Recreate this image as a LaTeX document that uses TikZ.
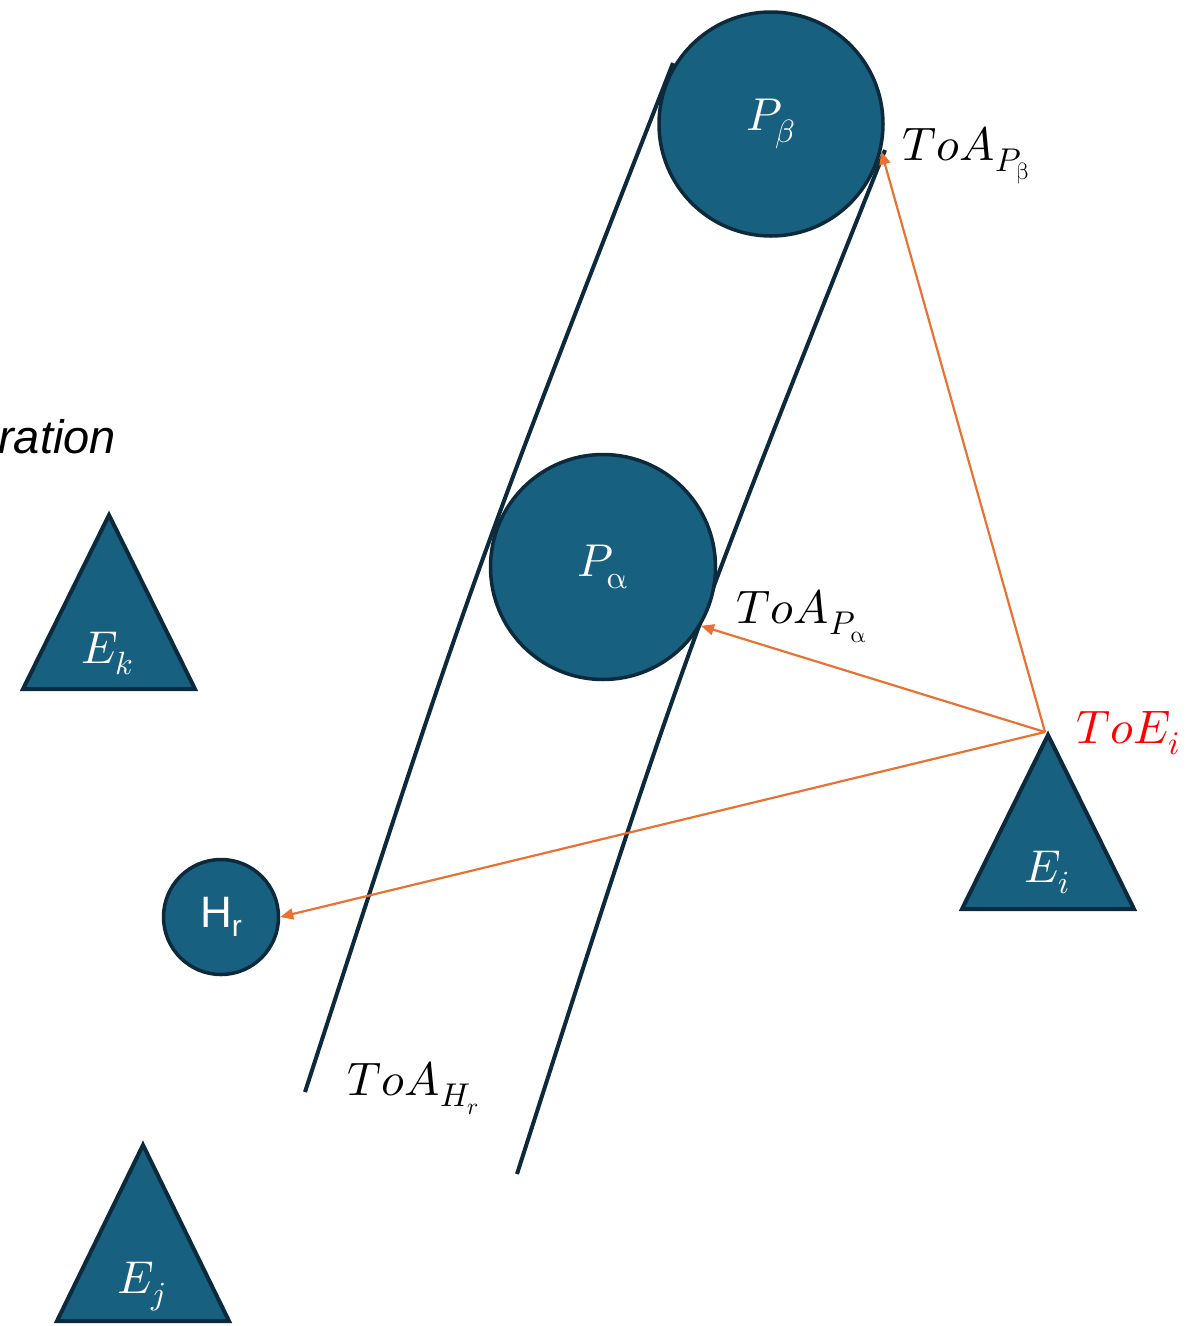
\documentclass[tikz,border=0pt]{standalone}
\usepackage{fontspec}
\usepackage{unicode-math}
\setmathfont{Latin Modern Math}
\newfontfamily\sansfam{Liberation Sans}
\usetikzlibrary{arrows.meta}
\definecolor{fillc}{HTML}{18607F}
\definecolor{edgec}{HTML}{0C2A3B}
\definecolor{orangec}{HTML}{E97132}
\begin{document}
\begin{tikzpicture}[x=1pt,y=-1pt,
  bluecirc/.style={circle,draw=edgec,fill=fillc,line width=3.5pt,inner sep=0pt,text=white,font=\fontsize{46}{50}\selectfont},
  tri/.style={draw=edgec,fill=fillc,line width=4pt,line join=miter},
  darkline/.style={draw=edgec,line width=4pt},
  arr/.style={draw=orangec,line width=2.2pt,-{Triangle[length=13pt,width=11pt]}},
  bigtxt/.style={font=\fontsize{47}{50}\selectfont,inner sep=0pt,anchor=base west},
  wtxt/.style={font=\fontsize{46}{48}\selectfont,inner sep=0pt,anchor=base west,text=white}
]
\useasboundingbox (0,0) rectangle (1191,1326);

% the two long lines
\coordinate (L1a) at (673,63);
\coordinate (L1b) at (305,1092);
\coordinate (L2a) at (885,150);
\coordinate (L2b) at (517,1174);
\draw[darkline] (L1a) .. controls (472,577) .. (L1b);
\draw[darkline] (L2a) .. controls (681,662) .. (L2b);

% circles
\node[bluecirc,minimum size=224pt] (Pb) at (771,124) {$P_\beta$\hspace{6pt}};
\node[bluecirc,minimum size=225pt] (Pa) at (603,567) {$P_{\upalpha}$};
\node[bluecirc,minimum size=115pt,font=\sansfam\fontsize{44}{48}\selectfont] (Hr) at (221,917) {H\raisebox{-0.22em}{\fontsize{30}{32}\selectfont r}};

% triangles
\draw[tri] (109,515) -- (195,689) -- (23,689) -- cycle;
\node[wtxt] (Ek) at (81,663) {$E_k$};
\draw[tri] (1048,735) -- (1134,909) -- (962,909) -- cycle;
\node[wtxt] (Ei) at (1024,882) {$E_i$};
\draw[tri] (143,1145) -- (229,1321) -- (57,1321) -- cycle;
\node[wtxt] (Ej) at (117,1293) {$E_j$};

% labels
\node[bigtxt] (lPb) at (902,160) {$ToA_{P_{\upbeta}}$};
\node[bigtxt] (lPa) at (736,623) {$ToA_{P_{\upalpha}}$};
\node[bigtxt,text=red] (lEi) at (1076,743) {$ToE_i$};
\node[bigtxt] (lHr) at (347,1095) {$ToA_{H_r}$};
\node[font=\sansfam\itshape\fontsize{47}{50}\selectfont,anchor=base east,inner sep=0pt] (ration) at (116,453) {ration};

% arrows
\coordinate (Eiapex) at (1045,732);
\draw[arr] (Eiapex) -- (Pb.-14);
\draw[arr] (Eiapex) -- (Pa.-31);
\draw[arr] (Eiapex) -- (Hr.0);
\end{tikzpicture}
\end{document}
